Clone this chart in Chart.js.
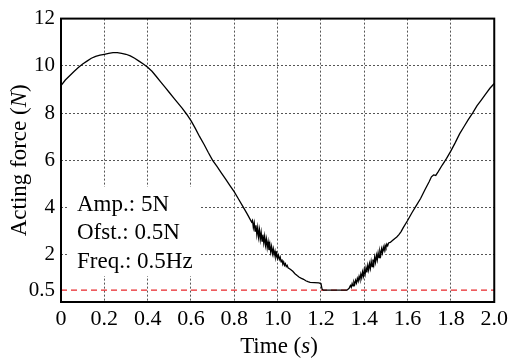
<!DOCTYPE html>
<html><head><meta charset="utf-8">
<script src="https://cdn.jsdelivr.net/npm/chart.js@4"></script>
<style>html,body{margin:0;padding:0;background:#fff}#wrap{width:512px;height:363px}</style>
</head><body><div id="wrap"><canvas id="c" width="512" height="363"></canvas></div>
<script>
// Time samples (s)
const times = [
  0.00,0.02,0.04,0.06,0.08,0.10,0.12,0.14,0.16,0.18,0.20,0.22,0.24,0.26,0.28,0.30,0.32,0.34,0.36,0.38,
  0.40,0.42,0.44,0.46,0.48,0.50,0.52,0.54,0.56,0.58,0.60,0.62,0.64,0.66,0.68,0.70,0.72,0.74,0.76,0.78,
  0.80,0.82,0.84,0.86,0.88,
  0.884,0.888,0.892,0.896,0.900,0.904,0.908,0.912,0.916,0.920,0.924,0.928,0.932,0.936,0.940,0.944,0.948,
  0.952,0.956,0.960,0.964,0.968,0.972,0.976,0.980,0.984,0.988,0.992,0.996,1.000,1.004,1.008,1.012,1.016,
  1.020,1.024,1.028,1.032,1.036,1.040,1.044,1.048,
  1.06,1.07,1.08,1.09,1.10,1.11,1.12,1.13,1.14,1.15,1.17,1.19,1.20,1.205,1.21,1.32,
  1.33,1.336,1.340,1.344,1.348,1.352,1.356,1.360,1.364,1.368,1.372,1.376,1.380,1.384,1.388,1.392,1.396,
  1.400,1.404,1.408,1.412,1.416,1.420,1.424,1.428,1.432,1.436,1.440,1.444,1.448,1.452,1.456,1.460,1.464,
  1.468,1.472,1.476,1.480,1.484,1.488,1.492,1.496,1.500,1.504,1.508,1.512,
  1.52,1.53,1.54,1.55,1.56,1.57,1.58,1.60,1.62,1.64,1.66,1.68,1.70,1.71,1.72,1.73,1.74,1.76,1.78,1.80,
  1.82,1.84,1.86,1.88,1.90,1.92,1.94,1.96,1.98,2.00
];
// Acting force (N)
const forces = [
  9.16,9.40,9.58,9.76,9.93,10.08,10.20,10.32,10.40,10.45,10.49,10.53,10.56,10.56,10.53,10.49,10.42,10.32,10.20,10.08,
  9.94,9.77,9.55,9.32,9.10,8.87,8.64,8.42,8.20,7.95,7.68,7.35,7.00,6.68,6.33,6.00,5.74,5.47,5.20,4.93,
  4.66,4.35,4.04,3.72,3.38,
  3.45,3.15,3.35,3.00,3.25,2.85,3.15,2.75,3.05,2.65,2.95,2.58,2.85,2.50,2.78,2.40,2.66,
  2.30,2.55,2.20,2.45,2.12,2.35,2.05,2.25,1.98,2.15,1.90,2.05,1.85,1.98,1.80,1.90,1.70,
  1.80,1.60,1.70,1.55,1.62,1.50,1.55,1.45,
  1.38,1.30,1.20,1.12,1.05,1.00,0.96,0.90,0.86,0.83,0.82,0.81,0.78,0.55,0.50,0.50,
  0.58,0.70,0.62,0.78,0.68,0.85,0.75,0.92,0.80,1.00,0.88,1.08,0.95,1.18,1.02,1.28,1.10,
  1.38,1.18,1.45,1.25,1.55,1.35,1.62,1.42,1.72,1.50,1.80,1.58,1.90,1.68,1.98,1.78,2.08,
  1.88,2.15,1.98,2.25,2.08,2.32,2.18,2.40,2.30,2.45,2.38,2.50,
  2.52,2.60,2.68,2.75,2.85,2.98,3.15,3.45,3.78,4.08,4.38,4.75,5.10,5.30,5.38,5.36,5.50,5.80,6.08,6.40,
  6.75,7.12,7.42,7.72,8.00,8.30,8.55,8.80,9.05,9.25
];
const offsetLevel = 0.5;
const xTicks = [0,0.2,0.4,0.6,0.8,1.0,1.2,1.4,1.6,1.8,2.0];
const xTickLabels = ['0','0.2','0.4','0.6','0.8','1.0','1.2','1.4','1.6','1.8','2.0'];
const yTicks = [0.5,2,4,6,8,10,12];
const yTickLabels = ['0.5','2','4','6','8','10','12'];
const noteLines = ['Amp.: 5N','Ofst.: 0.5N','Freq.: 0.5Hz'];

const SERIF = 'Liberation Serif, Times New Roman, Tinos, DejaVu Serif, serif';
const TICK_FS_X = 22;
const TICK_FS_Y = 21;
const TEXT_FS = 23;

const decor = {
  id: 'decor',
  beforeDatasetsDraw(chart) {
    const ctx = chart.ctx;
    ctx.save();
    ctx.fillStyle = '#fff';
    ctx.fillRect(69, 187, 132, 89);
    ctx.fillStyle = '#000';
    ctx.font = TEXT_FS + 'px ' + SERIF;
    ctx.textBaseline = 'middle';
    ctx.textAlign = 'left';
    const ys = [205, 233, 262];
    noteLines.forEach((t, i) => ctx.fillText(t, 77, ys[i]));
    ctx.restore();
  },
  afterDraw(chart) {
    const ctx = chart.ctx;
    const a = chart.chartArea;
    ctx.save();
    ctx.strokeStyle = '#000';
    ctx.lineWidth = 2;
    ctx.strokeRect(a.left, a.top, a.right - a.left, a.bottom - a.top);
    ctx.fillStyle = '#000';
    ctx.textBaseline = 'middle';
    ctx.textAlign = 'left';
    const normal = TEXT_FS + 'px ' + SERIF;
    const ital = 'italic ' + TEXT_FS + 'px ' + SERIF;
    function drawParts(parts, cx, cy) {
      let w = 0;
      parts.forEach(p => { ctx.font = p[1] ? ital : normal; w += ctx.measureText(p[0]).width; });
      let x = cx - w / 2;
      parts.forEach(p => { ctx.font = p[1] ? ital : normal; ctx.fillText(p[0], x, cy); x += ctx.measureText(p[0]).width; });
    }
    drawParts([['Time (', false], ['s', true], [')', false]], 279, 347);
    ctx.save();
    ctx.translate(20, (a.top + a.bottom) / 2);
    ctx.rotate(-Math.PI / 2);
    drawParts([['Acting force (', false], ['N', true], [')', false]], 0, 0);
    ctx.restore();
    ctx.restore();
  }
};

new Chart(document.getElementById('c'), {
  type: 'line',
  data: {
    datasets: [
      {
        label: 'Acting force',
        data: times.map((t, i) => ({ x: t, y: forces[i] })),
        borderColor: '#000',
        borderWidth: 1.3,
        pointRadius: 0,
        tension: 0,
        fill: false
      },
      {
        label: 'Offset',
        data: [{ x: xTicks[0], y: offsetLevel }, { x: xTicks[xTicks.length - 1], y: offsetLevel }],
        borderColor: '#e8262a',
        borderWidth: 1.2,
        borderDash: [6, 4],
        pointRadius: 0,
        fill: false
      }
    ]
  },
  options: {
    responsive: false,
    animation: false,
    devicePixelRatio: 1,
    layout: { padding: { top: 15, right: 16, left: 0, bottom: 0 } },
    plugins: { legend: { display: false }, tooltip: { enabled: false } },
    scales: {
      x: {
        type: 'linear', min: 0, max: 2,
        afterBuildTicks: s => { s.ticks = xTicks.map(v => ({ value: v })); },
        afterFit: s => { s.height = 61; },
        ticks: {
          autoSkip: false, maxRotation: 0, padding: 4, color: '#000',
          font: { family: SERIF, size: TICK_FS_X },
          callback: (v, i) => xTickLabels[i]
        },
        grid: {
          drawTicks: false, lineWidth: 1,
          color: c => (c.tick && (c.tick.value === 0 || c.tick.value === 2)) ? 'rgba(0,0,0,0)' : '#555'
        },
        border: { display: false, dash: [2, 2] }
      },
      y: {
        type: 'linear', min: 0, max: 12,
        afterBuildTicks: s => { s.ticks = yTicks.map(v => ({ value: v })); },
        afterFit: s => { s.width = 61; },
        ticks: {
          autoSkip: false, padding: 6, color: '#000',
          font: { family: SERIF, size: TICK_FS_Y },
          callback: (v, i) => yTickLabels[i]
        },
        grid: {
          drawTicks: false, lineWidth: 1,
          color: c => (c.tick && (c.tick.value === 0.5 || c.tick.value === 12)) ? 'rgba(0,0,0,0)' : '#555'
        },
        border: { display: false, dash: [2, 2] }
      }
    }
  },
  plugins: [decor]
});
</script></body></html>
